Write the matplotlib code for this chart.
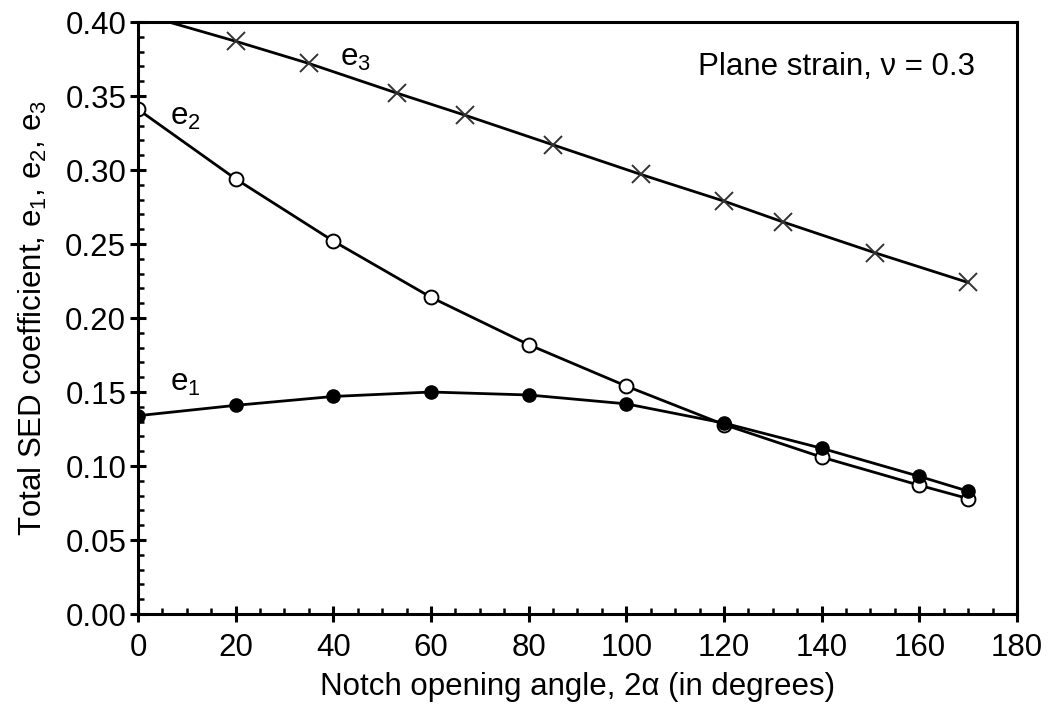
import matplotlib.pyplot as plt
from matplotlib.ticker import MultipleLocator, FormatStrFormatter

plt.rcParams['font.family'] = ['Liberation Sans', 'DejaVu Sans']
plt.rcParams['mathtext.default'] = 'regular'

# Values
angle = [0, 20, 40, 60, 80, 100, 120, 140, 160, 170]
e1 = [0.134, 0.141, 0.147, 0.150, 0.148, 0.142, 0.129, 0.112, 0.093, 0.083]
e2 = [0.341, 0.294, 0.252, 0.214, 0.182, 0.154, 0.128, 0.106, 0.087, 0.078]

angle_e3 = [0, 20, 35, 53, 67, 85, 103, 120, 132, 151, 170]
e3 = [0.406, 0.387, 0.372, 0.352, 0.337, 0.317, 0.297, 0.279, 0.265, 0.244, 0.224]

FS = 22.5


def style_axes(ax):
    """Plain black frame, ticks only on left and bottom."""
    for spine in ax.spines.values():
        spine.set_linewidth(2.2)
    ax.xaxis.set_major_locator(MultipleLocator(20))
    ax.xaxis.set_minor_locator(MultipleLocator(5))
    ax.yaxis.set_major_locator(MultipleLocator(0.05))
    ax.yaxis.set_minor_locator(MultipleLocator(0.01))
    ax.yaxis.set_major_formatter(FormatStrFormatter('%.2f'))
    ax.tick_params(which='major', direction='inout', length=11, width=2.2,
                   labelsize=FS, top=False, right=False)
    ax.tick_params(axis='y', which='major', pad=3)
    ax.tick_params(axis='x', which='major', pad=8)
    ax.tick_params(which='minor', direction='in', length=4.5, width=1.8,
                   top=False, right=False)


fig = plt.figure(figsize=(10.51, 7.06), dpi=100)
ax = fig.add_axes([0.1313, 0.1303, 0.8363, 0.8385])
style_axes(ax)

ax.plot(angle_e3, e3, color='black', lw=2.0, marker='x', markersize=13,
        markeredgewidth=1.4, markeredgecolor='#333333', markevery=range(1, len(e3)))
ax.plot(angle, e2, color='black', lw=2.0, marker='o', markersize=10,
        markerfacecolor='white', markeredgecolor='black', markeredgewidth=1.4)
ax.plot(angle, e1, color='black', lw=2.0, marker='o', markersize=9.5,
        markerfacecolor='black', markeredgecolor='black')

ax.text(9.8, 0.336, 'e$_2$', fontsize=FS, ha='center', va='center')
ax.text(44.6, 0.376, 'e$_3$', fontsize=FS, ha='center', va='center')
ax.text(9.6, 0.156, 'e$_1$', fontsize=FS, ha='center', va='center')
ax.text(0.952, 0.924, 'Plane strain, ν = 0.3', transform=ax.transAxes,
        fontsize=FS, ha='right', va='center')

ax.set_xlim(0, 180)
ax.set_ylim(0, 0.40)
ax.set_xlabel('Notch opening angle, 2α (in degrees)', fontsize=FS, labelpad=7)
ax.set_ylabel('Total SED coefficient, e$_1$, e$_2$, e$_3$', fontsize=FS, labelpad=12)

fig.savefig('out.png', dpi=100)
